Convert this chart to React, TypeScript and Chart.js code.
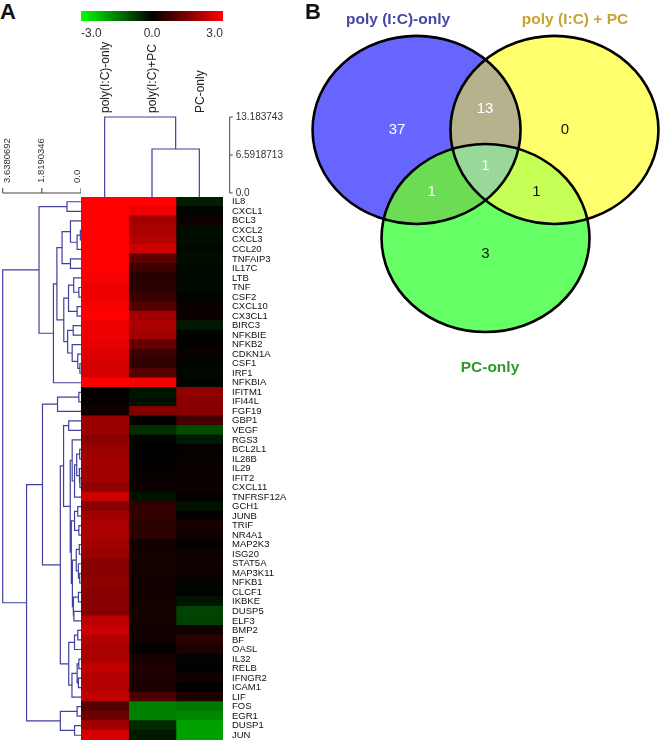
import React, { useEffect, useRef } from "react";
import { Chart, registerables } from "chart.js";

Chart.register(...registerables);

// ---------------- DATA ----------------
const GENES = [
  "IL8", "CXCL1", "BCL3", "CXCL2", "CXCL3", "CCL20", "TNFAIP3", "IL17C", "LTB", "TNF",
  "CSF2", "CXCL10", "CX3CL1", "BIRC3", "NFKBIE", "NFKB2", "CDKN1A", "CSF1", "IRF1", "NFKBIA",
  "IFITM1", "IFI44L", "FGF19", "GBP1", "VEGF", "RGS3", "BCL2L1", "IL28B", "IL29", "IFIT2",
  "CXCL11", "TNFRSF12A", "GCH1", "JUNB", "TRIF", "NR4A1", "MAP2K3", "ISG20", "STAT5A", "MAP3K11",
  "NFKB1", "CLCF1", "IKBKE", "DUSP5", "ELF3", "BMP2", "BF", "OASL", "IL32", "RELB",
  "IFNGR2", "ICAM1", "LIF", "FOS", "EGR1", "DUSP1", "JUN",
];
const CONDITIONS = ["poly(I:C)-only", "poly(I:C)+PC", "PC-only"];

const POLY_IC_ONLY = [
  3.0, 3.0, 3.0, 3.0, 3.0, 3.0, 3.0, 3.0, 2.9, 2.8,
  2.8, 2.9, 3.0, 2.8, 2.8, 2.7, 2.6, 2.5, 2.5, 3.0,
  0.05, 0.05, 0.2, 1.8, 1.8, 1.6, 1.8, 1.9, 1.9, 1.9,
  1.7, 2.4, 1.6, 1.9, 2.0, 2.0, 1.9, 1.8, 1.6, 1.6,
  1.7, 1.6, 1.6, 1.6, 2.2, 2.4, 2.1, 2.0, 2.0, 2.3,
  2.1, 2.1, 2.3, 0.95, 1.3, 1.9, 2.5,
];
const POLY_IC_PC = [
  3.0, 2.8, 1.9, 2.0, 2.1, 2.4, 1.1, 0.7, 0.45, 0.5,
  0.65, 1.0, 1.9, 2.0, 1.9, 1.2, 0.7, 0.55, 1.0, 2.9,
  -0.25, -0.2, 1.5, 0.05, -0.55, -0.05, 0.0, 0.0, 0.05, 0.1,
  0.15, -0.2, 0.6, 0.6, 0.5, 0.5, 0.2, 0.25, 0.25, 0.25,
  0.2, 0.2, 0.25, 0.25, 0.25, 0.2, 0.2, 0.05, 0.3, 0.35,
  0.35, 0.3, 0.9, -1.5, -1.5, -0.5, -0.3,
];
const PC_ONLY = [
  -0.35, -0.05, 0.15, -0.15, -0.15, -0.1, -0.15, -0.1, -0.1, -0.1,
  -0.05, 0.1, 0.1, -0.3, -0.05, 0.05, 0.1, -0.05, -0.1, -0.05,
  1.7, 1.6, 1.6, 0.8, -0.9, -0.3, 0.05, 0.1, 0.1, 0.1,
  0.15, 0.05, -0.2, 0.0, 0.3, 0.2, 0.05, 0.15, 0.2, 0.15,
  -0.05, -0.05, -0.25, -0.8, -0.75, 0.2, 0.5, 0.35, -0.05, 0.0,
  0.2, 0.0, 0.35, -1.4, -1.6, -1.9, -1.9,
];
const SERIES = [POLY_IC_ONLY, POLY_IC_PC, PC_ONLY];

const COLOR_MIN = -3;
const COLOR_MAX = 3;
const COLOR_TICKS = [-3, 0, 3];

// dendrograms: leaf = row/column index, node = [height, left, right]
type Tree = number | [number, Tree, Tree];
const ROW_TREE: Tree = [3.6380692,
  [1.95,
    [0.65, 0, 1],
    [1.28,
      [1.12,
        [0.88,
          [0.49, 2, [0.18, [0.03, 3, 4], 5]],
          [0.49, 6, 7]],
        [0.8,
          [0.58, [0.34, 8, [0.1, 9, 10]], [0.18, 11, 12]],
          [0.62, [0.36, 13, 14], [0.41, 15, [0.15, 16, [0.05, 17, 18]]]]]],
      19]],
  [2.53,
    [1.79,
      [1.09, [0.1, 20, 21], 22],
      [0.96,
        [0.81,
          [0.57, 23, 24],
          [0.5,
            [0.41, 25, [0.3, [0.2, [0.06, 26, 27], [0.08, 28, [0.05, 29, 30]]], 31]],
            [0.45,
              [0.3, [0.15, 32, 33], [0.1, 34, 35]],
              [0.4,
                [0.22, [0.08, 36, 37], [0.12, 38, [0.06, 39, 40]]],
                [0.37, [0.12, 41, 42], [0.33, 43, 44]]]]]],
        [0.57, [0.3, [0.15, 45, 46], 47], [0.42, [0.18, [0.1, 48, 49], [0.12, 50, 51]], 52]]]],
    [0.96, [0.18, 53, 54], [0.3, 55, 56]]]];
const COL_TREE: Tree = [13.183743, 0, [7.63, 1, 2]];

const ROW_HEIGHT_TICKS = [3.6380692, 1.8190346, 0.0];
const ROW_HEIGHT_LABELS = ["3.6380692", "1.8190346", "0.0"];
const COL_HEIGHT_TICKS = [13.183743, 6.5918713, 0.0];
const COL_HEIGHT_LABELS = ["13.183743", "6.5918713", "0.0"];

const VENN_SETS = ["poly (I:C)-only", "poly (I:C) + PC", "PC-only"];
const VENN_REGIONS = ["A", "AB", "B", "AC", "ABC", "BC", "C"];
const VENN_COUNTS = [37, 13, 0, 1, 1, 1, 3];

// ---------------- LAYOUT / STYLE ----------------
const FONT = '"Liberation Sans", Arial, Helvetica, sans-serif';
const DENDRO_COLOR = "#40409e";
const AXIS_TEXT = "#333333";
const COL_AXIS_MIN = -0.694;

const VENN_R = 1;
const VENN_CENTERS = [[-0.663, 0.575], [0.663, 0.575], [0, -0.575]];
const VENN_SET_LABEL_POS = [[-0.841, 1.745], [0.861, 1.745], [0.043, -1.957]];
const VENN_SET_LABEL_COLORS = ["#4646a8", "#c9a332", "#2e9a2e"];
const VENN_COUNT_POS: Record<string, number[]> = {
  A: [-0.851, 0.574], AB: [-0.005, 0.798], B: [0.764, 0.574],
  AC: [-0.517, -0.082], ABC: [0, 0.191], BC: [0.49, -0.082], C: [0, -0.745],
};
const VENN_FILL: Record<string, string> = {
  A: "#6666ff", B: "#ffff6e", C: "#66ff66",
  AB: "#b5b38e", AC: "#6cdc55", BC: "#c6ff55", ABC: "#99d899",
};
const VENN_TEXT_COLOR: Record<string, string> = {
  A: "#ffffff", AB: "#ffffff", B: "#111111", AC: "#ffffff", ABC: "#ffffff", BC: "#111111", C: "#111111",
};

function heatColor(v: number): string {
  const t = Math.max(-1, Math.min(1, v / COLOR_MAX));
  if (t >= 0) return `rgb(${Math.round(255 * t)},0,0)`;
  return `rgb(0,${Math.round(-255 * t)},0)`;
}

type Pt = { x: number; y: number };
function treeSegments(tree: Tree, leafBase: number, toPt: (pos: number, h: number) => Pt): Pt[] {
  const out: Pt[] = [];
  const walk = (t: Tree): { pos: number; h: number } => {
    if (typeof t === "number") return { pos: t, h: leafBase };
    const [h, l, r] = t;
    const a = walk(l);
    const b = walk(r);
    out.push(toPt(a.pos, a.h), toPt(a.pos, h), toPt(b.pos, h), toPt(b.pos, b.h), { x: NaN, y: NaN });
    return { pos: (a.pos + b.pos) / 2, h };
  };
  walk(tree);
  return out;
}

const baseOpts = {
  animation: false as const,
  responsive: false,
  maintainAspectRatio: false,
  devicePixelRatio: 1,
  events: [] as any[],
};

export default function App() {
  const cbRef = useRef<HTMLCanvasElement>(null);
  const colRef = useRef<HTMLCanvasElement>(null);
  const rowRef = useRef<HTMLCanvasElement>(null);
  const heatRef = useRef<HTMLCanvasElement>(null);
  const vennRef = useRef<HTMLCanvasElement>(null);

  useEffect(() => {
    const charts: Chart[] = [];

    // ---- colour bar ----
    charts.push(new Chart(cbRef.current!, {
      type: "bar",
      data: {
        labels: ["scale"],
        datasets: [{
          data: [[COLOR_MIN, COLOR_MAX]] as any,
          backgroundColor: (c: any) => {
            const ch = c.chart;
            if (!ch.chartArea) return "#000";
            const xs = ch.scales.x;
            const g = ch.ctx.createLinearGradient(xs.getPixelForValue(COLOR_MIN), 0, xs.getPixelForValue(COLOR_MAX), 0);
            g.addColorStop(0, heatColor(COLOR_MIN));
            g.addColorStop(0.5, heatColor(0));
            g.addColorStop(1, heatColor(COLOR_MAX));
            return g;
          },
          borderWidth: 0,
          barPercentage: 1,
          categoryPercentage: 1,
        }],
      },
      options: {
        ...baseOpts,
        indexAxis: "y",
        layout: { padding: { top: 11, left: 0, right: 0, bottom: 0 } },
        plugins: { legend: { display: false }, tooltip: { enabled: false } },
        scales: {
          y: { display: false },
          x: {
            type: "linear", min: COLOR_MIN, max: COLOR_MAX, position: "bottom",
            grid: { display: false, drawTicks: false }, border: { display: false },
            afterBuildTicks: (axis: any) => { axis.ticks = COLOR_TICKS.map((v) => ({ value: v })); },
            afterFit: (s: any) => { s.height = 24; s.paddingLeft = 0; s.paddingRight = 0; },
            ticks: {
              align: "inner", padding: 5, color: AXIS_TEXT, maxRotation: 0,
              font: { family: FONT, size: 12 },
              callback: (v: any) => Number(v).toFixed(1),
            },
          },
        },
      } as any,
    }));

    // ---- column dendrogram ----
    const colPts = treeSegments(COL_TREE, COL_AXIS_MIN, (pos, h) => ({ x: pos + 0.5, y: h }));
    charts.push(new Chart(colRef.current!, {
      type: "scatter",
      data: {
        datasets: [{
          data: colPts, showLine: true, spanGaps: false, pointRadius: 0,
          borderColor: DENDRO_COLOR, borderWidth: 1.2, clip: false,
        } as any],
      },
      options: {
        ...baseOpts,
        layout: { padding: { top: 77, left: 0, right: 107, bottom: 0 } },
        plugins: { legend: { display: false }, tooltip: { enabled: false } },
        scales: {
          x: { type: "linear", min: 0, max: CONDITIONS.length, display: false },
          y: { type: "linear", min: COL_AXIS_MIN, max: COL_HEIGHT_TICKS[0], display: false },
        },
      } as any,
      plugins: [{
        id: "colDeco",
        afterDraw(chart: any) {
          const { ctx, chartArea, scales } = chart;
          const xs = scales.x, ys = scales.y;
          ctx.save();
          // right height axis
          const ax = chartArea.right + 6.7;
          ctx.strokeStyle = "#444";
          ctx.lineWidth = 1;
          ctx.beginPath();
          ctx.moveTo(ax, ys.getPixelForValue(COL_HEIGHT_TICKS[0]));
          ctx.lineTo(ax, ys.getPixelForValue(0));
          COL_HEIGHT_TICKS.forEach((v) => {
            const py = ys.getPixelForValue(v);
            ctx.moveTo(ax, py);
            ctx.lineTo(ax + 3, py);
          });
          ctx.stroke();
          ctx.fillStyle = AXIS_TEXT;
          ctx.font = `10px ${FONT}`;
          ctx.textAlign = "left";
          ctx.textBaseline = "middle";
          COL_HEIGHT_TICKS.forEach((v, i) => ctx.fillText(COL_HEIGHT_LABELS[i], ax + 6, ys.getPixelForValue(v)));
          // column labels
          ctx.fillStyle = "#222";
          ctx.font = `12px ${FONT}`;
          CONDITIONS.forEach((name, i) => {
            ctx.save();
            ctx.translate(xs.getPixelForValue(i + 0.5) + 1, chartArea.top - 4);
            ctx.rotate(-Math.PI / 2);
            ctx.textAlign = "left";
            ctx.textBaseline = "middle";
            ctx.fillText(name, 0, 0);
            ctx.restore();
          });
          ctx.restore();
        },
      }],
    }));

    // ---- row dendrogram ----
    const rowPts = treeSegments(ROW_TREE, 0, (pos, h) => ({ x: h, y: pos }));
    charts.push(new Chart(rowRef.current!, {
      type: "scatter",
      data: {
        datasets: [{
          data: rowPts, showLine: true, spanGaps: false, pointRadius: 0,
          borderColor: DENDRO_COLOR, borderWidth: 1.2, clip: false,
        } as any],
      },
      options: {
        ...baseOpts,
        layout: { padding: { top: 67, left: 2.7, right: 0, bottom: 0 } },
        plugins: { legend: { display: false }, tooltip: { enabled: false } },
        scales: {
          x: { type: "linear", min: 0, max: ROW_HEIGHT_TICKS[0], reverse: true, display: false },
          y: { type: "linear", min: -0.5, max: GENES.length - 0.5, reverse: true, display: false },
        },
      } as any,
      plugins: [{
        id: "rowAxis",
        afterDraw(chart: any) {
          const { ctx, chartArea, scales } = chart;
          const xs = scales.x;
          const yAx = chartArea.top - 4;
          ctx.save();
          ctx.strokeStyle = "#444";
          ctx.lineWidth = 1;
          ctx.beginPath();
          ctx.moveTo(xs.getPixelForValue(ROW_HEIGHT_TICKS[0]), yAx);
          ctx.lineTo(xs.getPixelForValue(0), yAx);
          ROW_HEIGHT_TICKS.forEach((v) => {
            const px = xs.getPixelForValue(v);
            ctx.moveTo(px, yAx);
            ctx.lineTo(px, yAx - 5);
          });
          ctx.stroke();
          ctx.fillStyle = AXIS_TEXT;
          ctx.font = `9.5px ${FONT}`;
          ROW_HEIGHT_TICKS.forEach((v, i) => {
            const px = Math.min(Math.max(xs.getPixelForValue(v), chartArea.left + 4.5), chartArea.right - 3.5);
            ctx.save();
            ctx.translate(px, yAx - 10);
            ctx.rotate(-Math.PI / 2);
            ctx.textAlign = "left";
            ctx.textBaseline = "middle";
            ctx.fillText(ROW_HEIGHT_LABELS[i], 0, 0);
            ctx.restore();
          });
          ctx.restore();
        },
      }],
    }));

    // ---- heat map ----
    charts.push(new Chart(heatRef.current!, {
      type: "bar",
      data: {
        labels: GENES,
        datasets: SERIES.map((vals, c) => ({
          label: CONDITIONS[c],
          data: vals.map(() => [c, c + 1]) as any,
          backgroundColor: vals.map(heatColor),
          borderWidth: 0,
          barPercentage: 1,
          categoryPercentage: 1,
          grouped: false,
          inflateAmount: 0.6,
        })),
      },
      options: {
        ...baseOpts,
        indexAxis: "y",
        layout: { padding: { top: 7, left: 0, right: 0, bottom: 0 } },
        plugins: { legend: { display: false }, tooltip: { enabled: false } },
        scales: {
          x: { type: "linear", min: 0, max: CONDITIONS.length, display: false },
          y: {
            type: "category", position: "right",
            grid: { display: false, drawTicks: false }, border: { display: false },
            afterFit: (s: any) => { s.width = 107; s.paddingTop = 0; s.paddingBottom = 0; },
            ticks: { autoSkip: false, padding: 9, color: "#111", font: { family: FONT, size: 9.5 } },
          },
        },
      } as any,
    }));

    // ---- Venn diagram ----
    charts.push(new Chart(vennRef.current!, {
      type: "scatter",
      data: { datasets: [{ data: [], pointRadius: 0 }] },
      options: {
        ...baseOpts,
        layout: { padding: 0 },
        plugins: { legend: { display: false }, tooltip: { enabled: false } },
        scales: {
          x: { type: "linear", min: -1.784, max: 1.678, display: false },
          y: { type: "linear", min: -2.085, max: 1.957, display: false },
        },
      } as any,
      plugins: [{
        id: "venn",
        afterDraw(chart: any) {
          const { ctx, scales } = chart;
          const xs = scales.x, ys = scales.y;
          const path = (i: number) => {
            const [cx, cy] = VENN_CENTERS[i];
            const px = xs.getPixelForValue(cx), py = ys.getPixelForValue(cy);
            const rx = Math.abs(xs.getPixelForValue(cx + VENN_R) - px);
            const ry = Math.abs(ys.getPixelForValue(cy + VENN_R) - py);
            ctx.beginPath();
            ctx.ellipse(px, py, rx, ry, 0, 0, Math.PI * 2);
          };
          const keys = ["A", "B", "C"];
          ctx.save();
          keys.forEach((k, i) => { path(i); ctx.fillStyle = VENN_FILL[k]; ctx.fill(); });
          const pairs: [number, number, string][] = [[0, 1, "AB"], [0, 2, "AC"], [1, 2, "BC"]];
          pairs.forEach(([a, b, k]) => {
            ctx.save();
            path(a); ctx.clip();
            path(b); ctx.fillStyle = VENN_FILL[k]; ctx.fill();
            ctx.restore();
          });
          ctx.save();
          path(0); ctx.clip();
          path(1); ctx.clip();
          path(2); ctx.fillStyle = VENN_FILL.ABC; ctx.fill();
          ctx.restore();
          ctx.strokeStyle = "#000";
          ctx.lineWidth = 2.6;
          keys.forEach((_, i) => { path(i); ctx.stroke(); });
          // counts
          ctx.font = `15px ${FONT}`;
          ctx.textAlign = "center";
          ctx.textBaseline = "middle";
          VENN_REGIONS.forEach((r, i) => {
            const [u, v] = VENN_COUNT_POS[r];
            ctx.fillStyle = VENN_TEXT_COLOR[r];
            ctx.fillText(String(VENN_COUNTS[i]), xs.getPixelForValue(u), ys.getPixelForValue(v));
          });
          // set names
          ctx.font = `bold 15.5px ${FONT}`;
          VENN_SETS.forEach((name, i) => {
            const [u, v] = VENN_SET_LABEL_POS[i];
            ctx.fillStyle = VENN_SET_LABEL_COLORS[i];
            ctx.fillText(name, xs.getPixelForValue(u), ys.getPixelForValue(v));
          });
          ctx.restore();
        },
      }],
    }));

    return () => charts.forEach((c) => c.destroy());
  }, []);

  const cv = (ref: any, left: number, top: number, w: number, h: number) => (
    <canvas ref={ref} width={w} height={h}
      style={{ position: "absolute", left, top, width: w, height: h, display: "block" }} />
  );
  const letter = (t: string, left: number) => (
    <div style={{
      position: "absolute", left, top: 0.5, fontFamily: FONT, fontWeight: "bold",
      fontSize: 22, lineHeight: "22px", color: "#111",
    }}>{t}</div>
  );

  return (
    <div style={{ position: "absolute", left: 0, top: 0, width: 660, height: 740, background: "#fff", overflow: "hidden" }}>
      {cv(cbRef, 81, 0, 142, 45)}
      {cv(colRef, 81, 40, 249, 157)}
      {cv(rowRef, 0, 130, 81, 610)}
      {cv(heatRef, 81, 190, 249, 550)}
      {cv(vennRef, 300, 0, 360, 380)}
      {letter("A", 0)}
      {letter("B", 305)}
    </div>
  );
}
